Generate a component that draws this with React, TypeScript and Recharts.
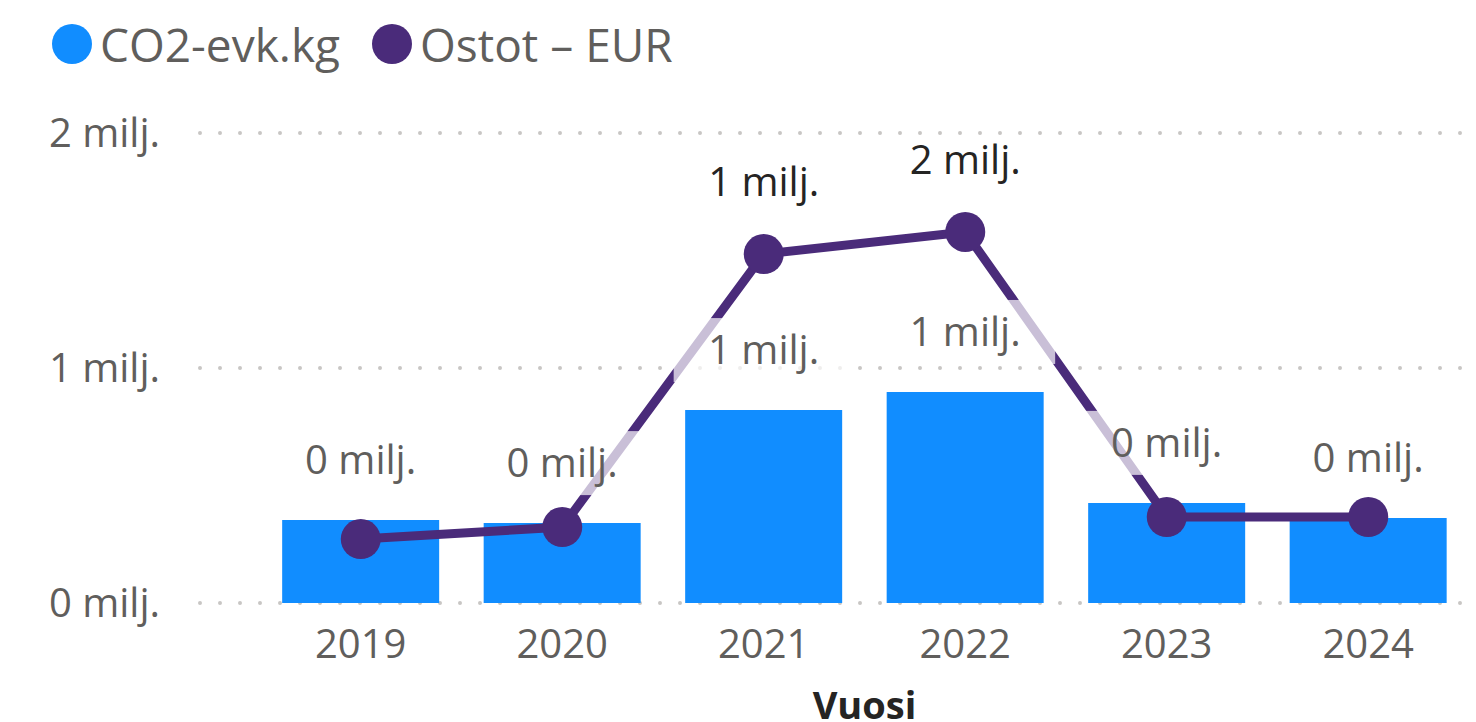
import {
  ComposedChart, Bar, Line, XAxis, YAxis, CartesianGrid, LabelList,
} from 'recharts';

const years = ['2019', '2020', '2021', '2022', '2023', '2024'];
const co2Values = [353000, 340000, 821000, 898000, 426000, 362000];
const purchaseValues = [272000, 323000, 1485000, 1579000, 366000, 366000];
// Power BI drops line labels that would collide with the bar labels
const purchaseLabelShown = [false, false, true, true, false, false];
const yTicks = [0, 1000000, 2000000];

const BAR_COLOR = '#118DFF';
const LINE_COLOR = '#4A2B7A';
const TEXT_GREY = '#605E5C';
const FONT = "'Segoe UI', 'Open Sans', 'Noto Sans', sans-serif";

const data = years.map((year, i) => ({
  year,
  co2: co2Values[i],
  eur: purchaseValues[i],
  showEur: purchaseLabelShown[i],
}));

const formatMilj = (v: number) => `${Math.round(v / 1000000)} milj.`;

// bar value label with a translucent white box behind it (fades the line where it passes)
function BarLabel(props: any) {
  const { x, y, width, value } = props;
  const cx = x + width / 2;
  const baseline = y - 46;
  const mid = baseline - 14;
  return (
    <g>
      <rect x={cx - 90} y={mid - 32} width={180} height={64} fill="#ffffff" fillOpacity={0.7} />
      <text x={cx} y={baseline} textAnchor="middle" fill={TEXT_GREY} fontSize={40} fontFamily={FONT}>
        {formatMilj(value)}
      </text>
    </g>
  );
}

function LineLabel(props: any) {
  const { x, y, value, index } = props;
  if (!purchaseLabelShown[index]) return null;
  return (
    <text x={x} y={y - 58} textAnchor="middle" fill="#252423" fontSize={40} fontFamily={FONT}>
      {formatMilj(value)}
    </text>
  );
}

function LegendItem({ color, label }: { color: string; label: string }) {
  return (
    <div style={{ display: 'flex', alignItems: 'center', marginRight: 32 }}>
      <div style={{ width: 40, height: 40, borderRadius: '50%', background: color, marginRight: 8 }} />
      <span style={{ fontSize: 46, lineHeight: 1, color: TEXT_GREY }}>{label}</span>
    </div>
  );
}

export default function App() {
  return (
    <div style={{ position: 'absolute', left: 0, top: 0, width: 1476, height: 722, background: '#fff', fontFamily: FONT, overflow: 'hidden' }}>
      <div style={{ position: 'absolute', left: 52, top: 24, height: 40, display: 'flex', alignItems: 'center' }}>
        <LegendItem color={BAR_COLOR} label="CO2-evk.kg" />
        <LegendItem color={LINE_COLOR} label="Ostot – EUR" />
      </div>
      <ComposedChart
        width={1476}
        height={722}
        data={data}
        margin={{ top: 133, right: 7, bottom: 0, left: 0 }}
        barCategoryGap="11%"
      >
        <CartesianGrid
          vertical={false}
          stroke="#C8C6C4"
          strokeWidth={4}
          strokeDasharray="0 20"
          strokeLinecap="round"
        />
        <XAxis
          dataKey="year"
          axisLine={false}
          tickLine={false}
          height={119}
          padding={{ left: 60, right: 0 }}
          tickMargin={21}
          tick={{ fill: TEXT_GREY, fontSize: 40, fontFamily: FONT }}
          label={{
            value: 'Vuosi',
            position: 'insideBottom',
            offset: 3,
            dx: 30,
            fill: '#252423',
            fontSize: 38,
            fontWeight: 700,
            fontFamily: FONT,
          }}
        />
        <YAxis
          width={200}
          domain={[0, 2000000]}
          ticks={yTicks}
          axisLine={false}
          tickLine={false}
          tickMargin={34}
          tickFormatter={formatMilj}
          tick={{ fill: TEXT_GREY, fontSize: 40, fontFamily: FONT }}
        />
        <Bar dataKey="co2" fill={BAR_COLOR} isAnimationActive={false}>
          <LabelList dataKey="co2" content={<BarLabel />} />
        </Bar>
        <Line
          dataKey="eur"
          stroke={LINE_COLOR}
          strokeWidth={9}
          dot={{ r: 20, fill: LINE_COLOR, stroke: 'none' }}
          activeDot={false}
          isAnimationActive={false}
        >
          <LabelList dataKey="eur" content={<LineLabel />} />
        </Line>
      </ComposedChart>
    </div>
  );
}
